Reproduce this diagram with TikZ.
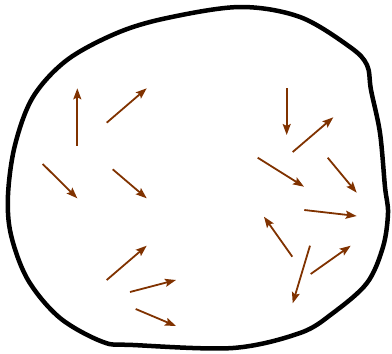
\documentclass[tikz,border=0pt]{standalone}
\usetikzlibrary{arrows.meta}
\definecolor{vecbrown}{RGB}{128,50,0}
\begin{document}
\begin{tikzpicture}[x=1pt,y=-1pt,
  vec/.style={draw=vecbrown,line width=1.8pt,-{Stealth[length=11pt,width=8pt,inset=2pt]}},
  blob/.style={draw=black,line width=4.5pt,line join=round}]
\useasboundingbox (0,0) rectangle (392,354);
\draw[blob] plot[smooth cycle,tension=0.55] coordinates {
 (240,7) (300,17) (350,47) (367,65) (371,90) (380,133) (385,187) (388,213)
 (383,247) (367,283) (333,313) (300,333) (233,348) (133,345) (103,342)
 (60,318) (28,280) (11,235) (8,195) (15,145) (33,97) (67,60) (117,33) (167,18)};
\coordinate (t1) at (77.3,145.7);  \coordinate (h1) at (77.3,88.3);
\coordinate (t2) at (106.7,122.7); \coordinate (h2) at (146.7,88.3);
\coordinate (t3) at (42.7,164);    \coordinate (h3) at (77.3,198.3);
\coordinate (t4) at (112.7,169.3); \coordinate (h4) at (146.7,198.3);
\coordinate (t5) at (106.7,280);   \coordinate (h5) at (146.7,245.7);
\coordinate (t6) at (130,292);     \coordinate (h6) at (176,280);
\coordinate (t7) at (135.7,309);   \coordinate (h7) at (176,326);
\coordinate (t8) at (286.7,88.3);  \coordinate (h8) at (286.7,135);
\coordinate (t9) at (292.7,152);   \coordinate (h9) at (333.3,117.3);
\coordinate (t10) at (257.7,157.7); \coordinate (h10) at (304,186.7);
\coordinate (t11) at (327.7,157.7); \coordinate (h11) at (356.7,192.7);
\coordinate (t12) at (304.3,210);  \coordinate (h12) at (356.7,216);
\coordinate (t13) at (292.3,256.7); \coordinate (h13) at (264,216.7);
\coordinate (t14) at (310,245.7);  \coordinate (h14) at (292.7,303.3);
\coordinate (t15) at (310.7,274);  \coordinate (h15) at (350.7,245.7);
\foreach \i in {1,...,15} {\draw[vec] (t\i) -- (h\i);}
\end{tikzpicture}
\end{document}
